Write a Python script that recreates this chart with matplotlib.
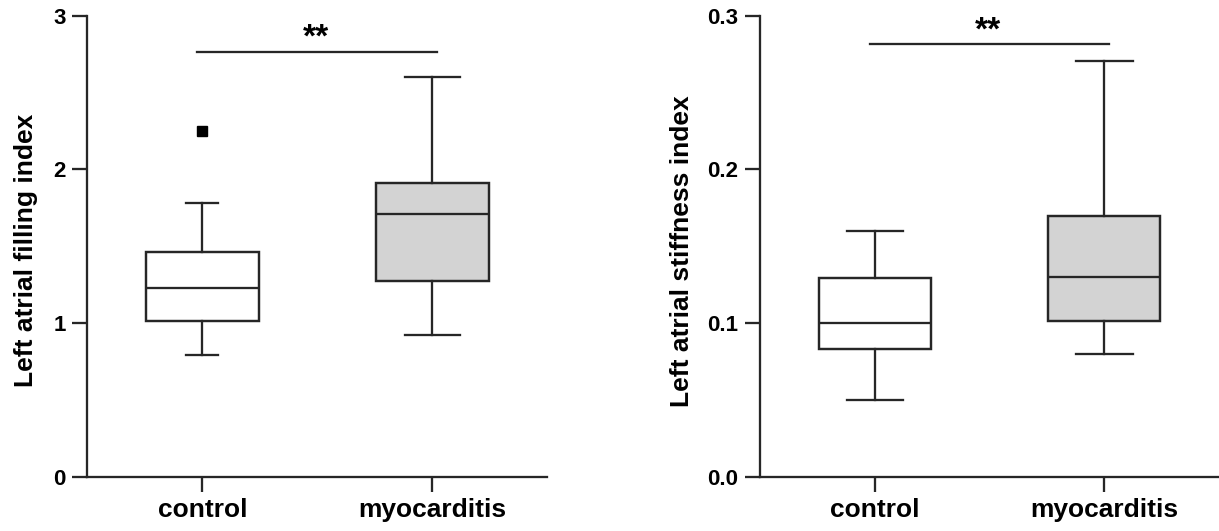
import numpy as np
import matplotlib
matplotlib.use("Agg")
import matplotlib.pyplot as plt

plt.rcParams['font.family'] = ['Liberation Sans', 'DejaVu Sans']

groups = ['control', 'myocarditis']

# box summaries: low whisker, q1, median, q3, high whisker
filling_low = [0.79, 0.92]
filling_q1 = [1.013, 1.275]
filling_med = [1.231, 1.710]
filling_q3 = [1.460, 1.911]
filling_high = [1.778, 2.599]
filling_outliers = [[2.248], []]

stiff_low = [0.050, 0.080]
stiff_q1 = [0.0833, 0.101]
stiff_med = [0.100, 0.1297]
stiff_q3 = [0.1293, 0.1695]
stiff_high = [0.160, 0.2703]
stiff_outliers = [[], []]

filling_ticks = [0, 1, 2, 3]
stiff_ticks = [0.0, 0.1, 0.2, 0.3]
filling_sig = 2.762
stiff_sig = 0.2814

line_col = '#262626'
fills = ['white', '#d3d3d3']


def make_stats(low, q1, med, q3, high, outl):
    stats = []
    for i in range(len(low)):
        stats.append({'whislo': low[i], 'q1': q1[i], 'med': med[i], 'q3': q3[i],
                      'whishi': high[i], 'fliers': outl[i]})
    return stats


def draw_panel(ax, stats, caps, ticks, ylim, ylabel, sig, star_y, fmt, label_x):
    bp = ax.bxp(stats, positions=[0, 1], widths=0.49, patch_artist=True,
                capwidths=caps, manage_ticks=False,
                boxprops=dict(linewidth=1.75, edgecolor=line_col),
                whiskerprops=dict(linewidth=1.65, color=line_col),
                capprops=dict(linewidth=1.65, color=line_col),
                medianprops=dict(linewidth=1.65, color=line_col),
                flierprops=dict(marker='s', markersize=7.2, markerfacecolor='black',
                                markeredgecolor='black', linestyle='none'))
    for patch, c in zip(bp['boxes'], fills):
        patch.set_facecolor(c)

    ax.set_xlim(-0.5, 1.5)
    ax.set_ylim(ylim)
    ax.set_xticks([0, 1])
    ax.set_xticklabels(groups, fontsize=19, fontweight='bold')
    ax.set_yticks(ticks)
    ax.set_yticklabels([fmt.format(t) for t in ticks], fontsize=16, fontweight='bold')
    ax.spines['top'].set_visible(False)
    ax.spines['right'].set_visible(False)
    for s in ['left', 'bottom']:
        ax.spines[s].set_linewidth(1.65)
        ax.spines[s].set_color(line_col)
    ax.tick_params(axis='both', length=11, width=1.65, color=line_col)
    ax.tick_params(axis='y', pad=4.5)
    ax.tick_params(axis='x', pad=4.5)
    ax.set_ylabel(ylabel, fontsize=19, fontweight='bold')
    ax.yaxis.set_label_coords(label_x, 0.49)

    # significance bar
    ax.plot([-0.022, 1.022], [sig, sig], color=line_col, linewidth=1.65, clip_on=False)
    ax.text(0.495, star_y, '**', ha='center', va='baseline', fontsize=24, fontweight='bold')


fig = plt.figure(figsize=(12.19, 5.31), dpi=100)
ax1 = fig.add_axes([0.0716, 0.1023, 0.3774, 0.8682])
ax2 = fig.add_axes([0.6235, 0.1023, 0.3765, 0.8682])

draw_panel(ax1, make_stats(filling_low, filling_q1, filling_med, filling_q3, filling_high, filling_outliers),
           [0.14, 0.24], filling_ticks, (0, 3), 'Left atrial filling index',
           filling_sig, 2.802, '{:.0f}', -0.108)
draw_panel(ax2, make_stats(stiff_low, stiff_q1, stiff_med, stiff_q3, stiff_high, stiff_outliers),
           [0.245, 0.25], stiff_ticks, (0, 0.3), 'Left atrial stiffness index',
           stiff_sig, 0.2842, '{:.1f}', -0.143)

fig.savefig('out.png', dpi=100)
